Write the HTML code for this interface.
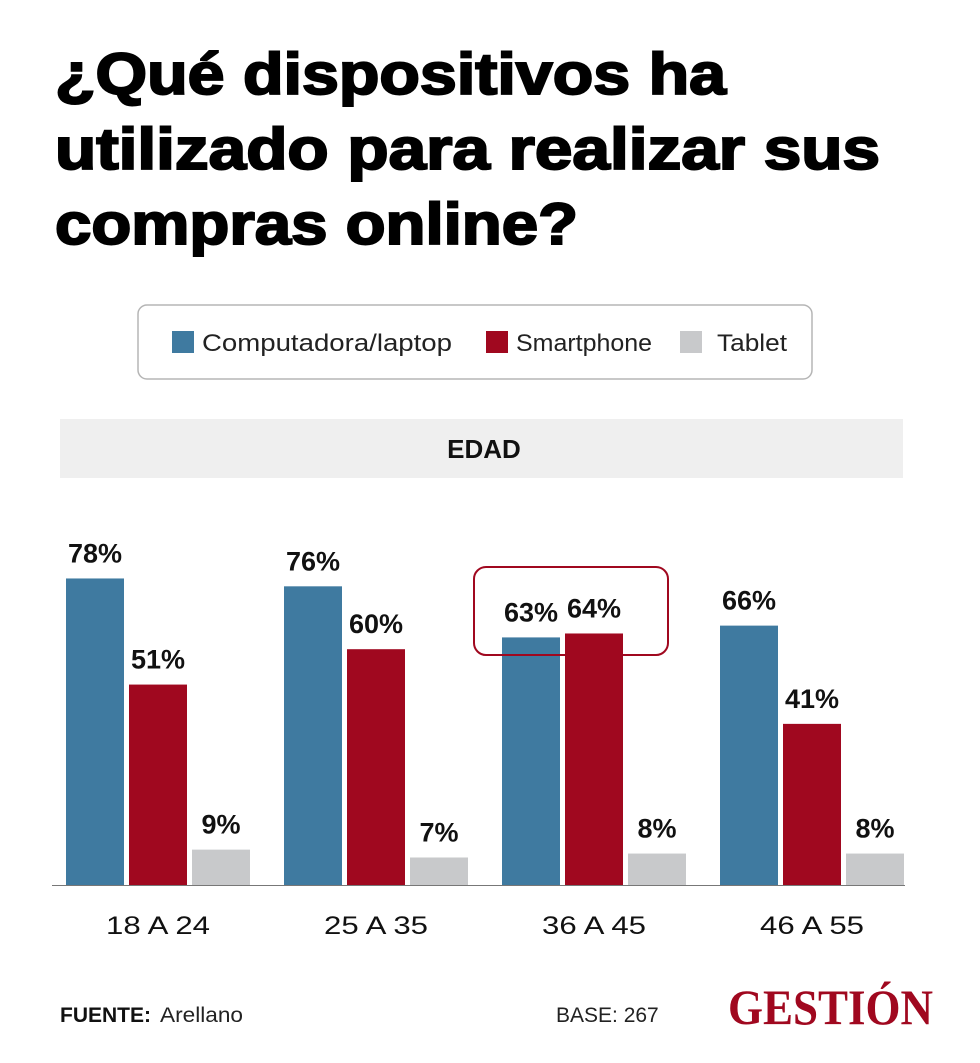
<!DOCTYPE html>
<html><head><meta charset="utf-8"><style>
body{margin:0;background:#fff;}
svg{display:block;font-family:"Liberation Sans",sans-serif;}
</style></head><body>
<svg id="chart" width="980" height="1063" viewBox="0 0 980 1063">
<g font-weight="bold" font-size="58" fill="#000" stroke="#000" stroke-width="2">
<text x="55" y="94" textLength="671" lengthAdjust="spacingAndGlyphs">¿Qué dispositivos ha</text>
<text x="55" y="169" textLength="825" lengthAdjust="spacingAndGlyphs">utilizado para realizar sus</text>
<text x="55" y="244" textLength="523" lengthAdjust="spacingAndGlyphs">compras online?</text>
</g>
<g>
<rect x="138" y="305" width="674" height="74" rx="9" fill="#fff" stroke="#b5b5b5" stroke-width="1.5"/>
<rect x="172" y="331" width="22" height="22" fill="#3f7aa0"/>
<text x="202" y="351" font-size="24" fill="#222" textLength="250" lengthAdjust="spacingAndGlyphs">Computadora/laptop</text>
<rect x="486" y="331" width="22" height="22" fill="#a0081f"/>
<text x="516" y="351" font-size="24" fill="#222" textLength="136" lengthAdjust="spacingAndGlyphs">Smartphone</text>
<rect x="680" y="331" width="22" height="22" fill="#c8c9cb"/>
<text x="717" y="351" font-size="24" fill="#222" textLength="70" lengthAdjust="spacingAndGlyphs">Tablet</text>
</g>
<g>
<rect x="60" y="419" width="843" height="59" fill="#efefef"/>
<text x="484" y="458" font-size="26" font-weight="bold" text-anchor="middle" fill="#111">EDAD</text>
</g>
<line x1="52" y1="885.5" x2="905" y2="885.5" stroke="#777" stroke-width="1"/>
<g id="bars"></g>
<rect x="474" y="567" width="194" height="88" rx="12" fill="none" stroke="#a0081f" stroke-width="2"/>
<g font-size="21" fill="#222">
<text x="60" y="1022" font-weight="bold" fill="#111">FUENTE:</text>
<text x="160" y="1022" textLength="83" lengthAdjust="spacingAndGlyphs">Arellano</text>
<text x="556" y="1022">BASE: 267</text>
<text x="728" y="1024" font-family="Liberation Serif,serif" font-weight="bold" font-size="50" fill="#a0081f" textLength="205" lengthAdjust="spacingAndGlyphs">GESTIÓN</text>
</g>
</svg>
<script>
const categories = ["18 A 24","25 A 35","36 A 45","46 A 55"];
const computadora = [78,76,63,66];
const smartphone = [51,60,64,41];
const tablet = [9,7,8,8];
const seriesColors = ["#3f7aa0","#a0081f","#c8c9cb"];
const seriesNames = ["computadora","smartphone","tablet"];

const NS="http://www.w3.org/2000/svg";
const baseY=885, pxPer=3.93, groupX0=66, groupStep=218, barW=58, barStep=63;
function yScale(v){return baseY - v*pxPer;}
function xScale(gi,si){return groupX0 + gi*groupStep + si*barStep;}
const g=document.getElementById('bars');
const all=[computadora,smartphone,tablet];
categories.forEach((cat,gi)=>{
  all.forEach((arr,si)=>{
    const v=arr[gi];
    const r=document.createElementNS(NS,'rect');
    r.setAttribute('x',xScale(gi,si));
    r.setAttribute('y',yScale(v));
    r.setAttribute('width',barW);
    r.setAttribute('height',baseY-yScale(v));
    r.setAttribute('fill',seriesColors[si]);
    
    
    g.appendChild(r);
    const t=document.createElementNS(NS,'text');
    t.setAttribute('x',xScale(gi,si)+barW/2);
    t.setAttribute('y',yScale(v)-16);
    t.setAttribute('text-anchor','middle');
    t.setAttribute('font-size','27');
    t.setAttribute('font-weight','bold');
    t.setAttribute('fill','#111');
    t.textContent=v+'%';
    
    
    g.appendChild(t);
  });
  const c=document.createElementNS(NS,'text');
  c.setAttribute('x',xScale(gi,1)+barW/2-52);
  c.setAttribute('y',934);
  c.setAttribute('font-size','25');
  c.setAttribute('fill','#111');
  c.setAttribute('textLength','104');
  c.setAttribute('lengthAdjust','spacingAndGlyphs');
  c.textContent=cat;
  
  
  g.appendChild(c);
});
</script>
</body></html>
